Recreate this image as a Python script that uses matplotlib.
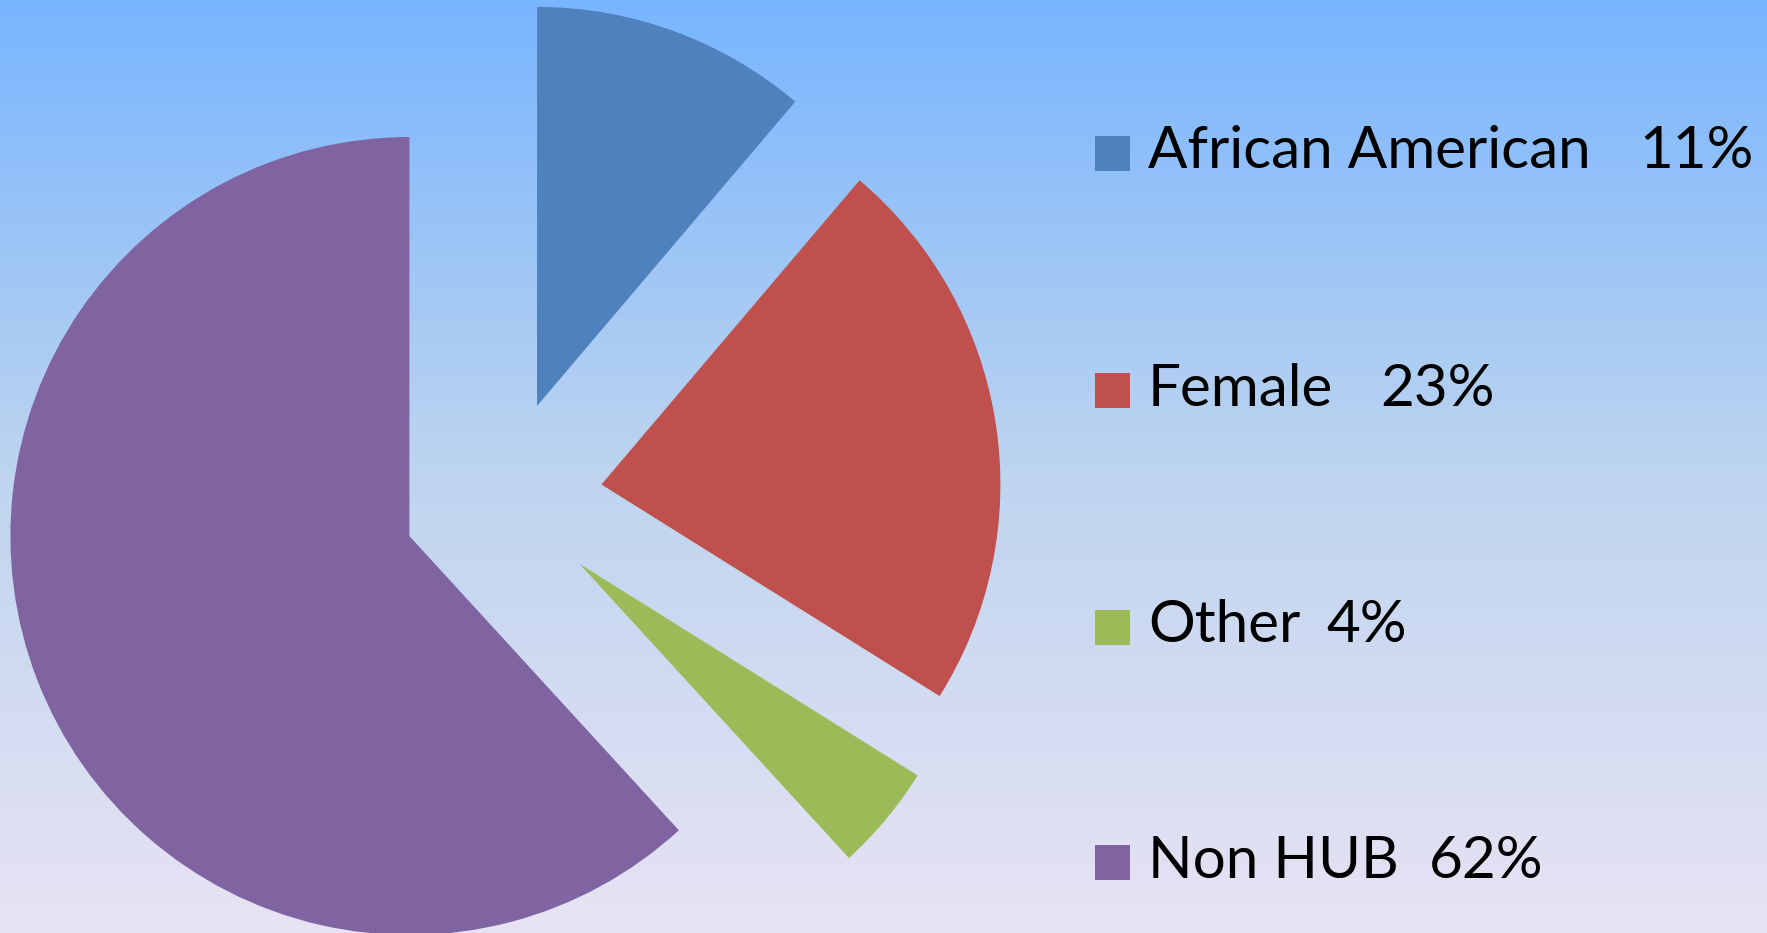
import numpy as np
import matplotlib
matplotlib.use("Agg")
import matplotlib.pyplot as plt
from matplotlib.colors import LinearSegmentedColormap

labels = ["African American", "Female", "Other", "Non HUB"]
# wedge sizes (labels show rounded %)
shares = [11.2, 22.7, 4.3, 61.8]
pct_text = ["11%", "23%", "4%", "62%"]
colors = ["#4F81BD", "#C0504D", "#9BBB59", "#8064A2"]

W, H = 1767, 933
fig = plt.figure(figsize=(W / 100, H / 100), dpi=100)
ax = fig.add_axes([0, 0, 1, 1])

# background gradient, blue at top fading to lavender
bg = LinearSegmentedColormap.from_list("bg", ["#E8E3F4", "#BDD4EF", "#78B5FF"])
grad = np.linspace(0, 1, 256).reshape(-1, 1)
ax.imshow(grad, cmap=bg, aspect="auto", extent=(0, W, 0, H), origin="lower", zorder=0)

# exploded pie, center / radius in pixel units
cx, cy, r = 502.6, H - 499.8, 399
ax.pie(shares, colors=colors, startangle=90, counterclock=False,
       center=(cx, cy), radius=r, explode=[100] * 4,
       wedgeprops=dict(linewidth=0), frame=True)

# legend drawn by hand
row_y = [153, 390, 627, 862]
pct_x = [1639, 1380, 1326, 1429]
for lab, pct, col, yc, px in zip(labels, pct_text, colors, row_y, pct_x):
    ax.add_patch(plt.Rectangle((1095, H - yc - 17.5), 35, 35, color=col, lw=0, zorder=3))
    ax.text(1148, H - yc + 1, lab, fontsize=42, family="Lato", va="center", ha="left", color="black")
    ax.text(px, H - yc + 1, pct, fontsize=42, family="Lato", va="center", ha="left", color="black")

ax.set_xlim(0, W)
ax.set_ylim(0, H)
ax.set_aspect("auto")
ax.axis("off")

fig.savefig("out.png", dpi=100)
